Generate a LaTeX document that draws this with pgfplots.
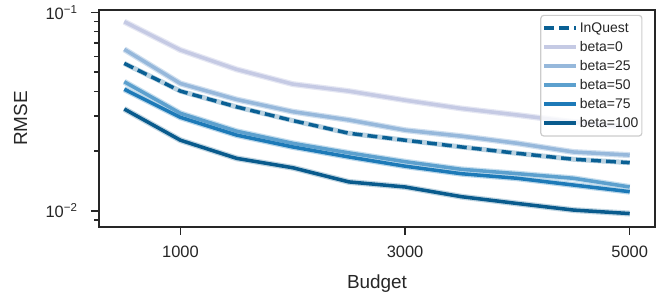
\documentclass[border=0pt]{standalone}
\usepackage{pgfplots}
\usepackage{pgfplotstable}
\pgfplotsset{compat=1.18}
\usepackage{fontspec}
\setmainfont{Liberation Sans}
\definecolor{txt}{RGB}{38,38,38}
\definecolor{cInQ}{RGB}{10,96,148}
\definecolor{cB0}{RGB}{197,202,228}
\definecolor{cB25}{RGB}{150,184,219}
\definecolor{cB50}{RGB}{92,160,206}
\definecolor{cB75}{RGB}{29,122,184}
\definecolor{cB100}{RGB}{9,91,141}
\pgfplotstableread{
x     inq     b0      b25     b50     b75     b100
500   0.0553  0.0897  0.0651  0.0447  0.0410  0.0326
1000  0.0401  0.0646  0.0438  0.0310  0.0296  0.0227
1500  0.0334  0.0516  0.0364  0.0252  0.0241  0.0184
2000  0.0285  0.0435  0.0316  0.0219  0.0210  0.0165
2500  0.0246  0.0401  0.0287  0.0196  0.0187  0.0140
3000  0.0227  0.0361  0.0255  0.0177  0.0168  0.0132
3500  0.0210  0.0328  0.0238  0.0162  0.0154  0.0118
4000  0.0195  0.0304  0.0219  0.0154  0.0146  0.0109
4500  0.0182  0.0280  0.0198  0.0146  0.0135  0.0101
5000  0.0175  0.0264  0.0191  0.0132  0.0125  0.0097
}\data
\begin{document}
\begin{tikzpicture}
\useasboundingbox (-99bp,-69bp) rectangle (573bp,227bp);
\begin{axis}[
  at={(0,0)}, anchor=south west,
  scale only axis, width=556bp, height=217bp,
  xmin=275, xmax=5225, ymode=log, ymin=0.0083, ymax=0.1027,
  xtick={1000,3000,5000}, xticklabels={1000,3000,5000},
  ytick={0.01,0.1}, yticklabels={10\textsuperscript{−2},10\textsuperscript{−1}},
  minor ytick={0.009,0.02,0.03,0.04,0.05,0.06,0.07,0.08,0.09},
  axis line style={txt, line width=1.5bp},
  every tick/.style={txt, line width=1.5bp},
  major tick length=8bp, minor tick length=4.5bp,
  tick align=outside, xtick pos=bottom, ytick pos=left,
  tick label style={font=\fontsize{16.5}{19}\selectfont, text=txt},
  xticklabel style={yshift=-8bp},
  yticklabel style={xshift=-10bp},
  xlabel={Budget}, ylabel={RMSE},
  label style={font=\fontsize{19}{22}\selectfont, text=txt},
  xlabel style={at={([yshift=-61bp]axis description cs:0.5,0)}, anchor=base},
  ylabel style={at={([xshift=-78.5bp]axis description cs:0,0.5)}, anchor=center},
  legend style={at={(0.9775,0.978)}, anchor=north east,
    draw={rgb,255:red,204;green,204;blue,204}, line width=1.2bp,
    rounded corners=3bp, fill=white, fill opacity=0.8, text opacity=1,
    font=\fontsize{14}{16}\selectfont, text=txt, row sep=3.5bp,
    inner xsep=1.5bp, inner ysep=5bp},
  legend cell align=left,
  legend image code/.code={\draw[#1] (0bp,0bp) -- (32bp,0bp);},
  every axis plot/.append style={line join=round},
]
% halos (confidence bands)
\addplot[forget plot, cB0!45, line width=6bp] table[x=x,y=b0]{\data};
\addplot[forget plot, cB25!45, line width=6bp] table[x=x,y=b25]{\data};
\addplot[forget plot, cB50!35, line width=6bp] table[x=x,y=b50]{\data};
\addplot[forget plot, cB75!30, line width=6bp] table[x=x,y=b75]{\data};
\addplot[forget plot, cB100!25, line width=6bp] table[x=x,y=b100]{\data};
\addplot[forget plot, cInQ!28, line width=5bp] table[x=x,y=inq]{\data};
% main lines
\addplot[cInQ, line width=3.5bp, dash pattern=on 10bp off 5bp] table[x=x,y=inq]{\data};
\addlegendentry{InQuest}
\addplot[cB0, line width=3.5bp] table[x=x,y=b0]{\data};
\addlegendentry{beta=0}
\addplot[cB25, line width=3.5bp] table[x=x,y=b25]{\data};
\addlegendentry{beta=25}
\addplot[cB50, line width=3.5bp] table[x=x,y=b50]{\data};
\addlegendentry{beta=50}
\addplot[cB75, line width=3.5bp] table[x=x,y=b75]{\data};
\addlegendentry{beta=75}
\addplot[cB100, line width=3.5bp] table[x=x,y=b100]{\data};
\addlegendentry{beta=100}
\end{axis}
\end{tikzpicture}
\end{document}
